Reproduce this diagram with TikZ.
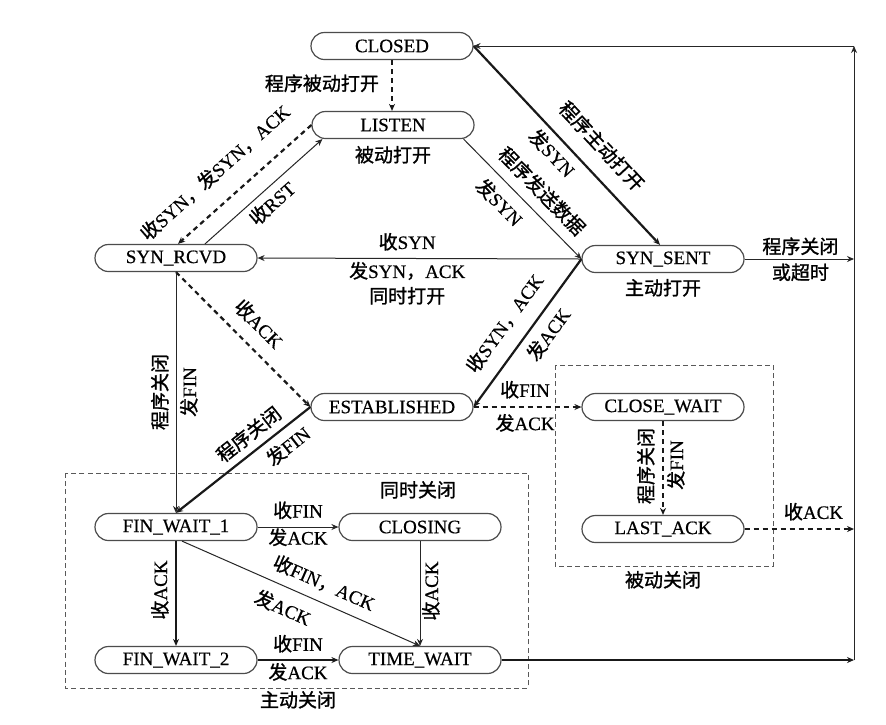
\documentclass[tikz,border=0pt]{standalone}
\usepackage{fontspec}
\setmainfont{Liberation Serif}[FakeBold=0.5]
\newfontfamily\cjk{Noto Sans CJK SC}[FakeBold=1.2]
\usetikzlibrary{arrows.meta,calc}
\newcommand\zh[1]{{\cjk #1}}
\begin{document}
\begin{tikzpicture}[x=0.5pt,y=-0.5pt,
  font=\fontsize{9.5}{11}\selectfont,
  st/.style={draw=black!70,line width=0.6pt,rounded corners=6.75pt,minimum width=81pt,minimum height=13.5pt,inner sep=0pt},
  lab/.style={inner sep=1pt,text height=7pt,text depth=2pt},
  tip/.style={-{Stealth[length=3.5pt,width=3pt]}},
  ln/.style={draw=black!85,line width=0.5pt,tip},
  tk/.style={draw=black!90,line width=1.1pt,tip},
  dd/.style={draw=black!90,line width=1.1pt,dash pattern=on 2.5pt off 2pt,tip},
  boxd/.style={draw=black!65,line width=0.5pt,dash pattern=on 2.5pt off 1.6pt}]
\fill[white] (0,0) rectangle (886,724);
\useasboundingbox (0,0) rectangle (886,724);
% dashed boxes
\draw[boxd] (65,473) rectangle (528,688);
\draw[boxd] (555,365) rectangle (773,566);
% states
\node[st] (closed) at (392,46) {CLOSED};
\node[st] (listen) at (393,125) {LISTEN};
\node[st] (synrcvd) at (176,258) {SYN\_RCVD};
\node[st] (synsent) at (663,259) {SYN\_SENT};
\node[st] (estab) at (392,407) {ESTABLISHED};
\node[st] (closewait) at (663,407) {CLOSE\_WAIT};
\node[st] (lastack) at (663,529) {LAST\_ACK};
\node[st] (fw1) at (176,527) {FIN\_WAIT\_1};
\node[st] (closing) at (420,527) {CLOSING};
\node[st] (fw2) at (176,660) {FIN\_WAIT\_2};
\node[st] (tw) at (420,660) {TIME\_WAIT};
% free labels
\node[lab] (tsgb) at (418,492) {\zh{同时关闭}};
\node[lab] (zdgb) at (298,702) {\zh{主动关闭}};
\node[lab] (bdgb) at (663,582) {\zh{被动关闭}};
\node[lab] (bddk) at (393,157) {\zh{被动打开}};
\node[lab] (zddk) at (663,290) {\zh{主动打开}};
% right bus coordinates
\coordinate (r1) at (854,259);
\coordinate (r2) at (854,529);
\coordinate (r3) at (854,660);
\coordinate (rt) at (854,46);
% edges
\draw[dd] (closed.south) -- (closed.south |- listen.north)
  node[lab,midway,left=5pt] (l1) {\zh{程序被动打开}};
\draw[dd] (listen.west) -- ($(synrcvd.north)+(2,0)$)
  node[lab,pos=0.58,sloped,above=7.3pt] (l2) {\zh{收}SYN\zh{，发}SYN\zh{，}ACK};
\draw[ln] ($(synrcvd.north)+(29,0)$) -- ($(listen.south west)+(11,0)$)
  node[lab,pos=0.49,sloped,below=2.5pt] (l3) {\zh{收}RST};
\draw[ln] ($(listen.south east)+(-11,0)$) -- (synsent.west)
  node[lab,pos=0.547,sloped,above=2.9pt] (l4a) {\zh{程序发送数据}}
  node[lab,pos=0.417,sloped,below=4.7pt] (l4b) {\zh{发}SYN};
\draw[tk] (closed.east) -- ($(synsent.north)+(-3,0)$)
  node[lab,pos=0.589,sloped,above=5.4pt] (l5a) {\zh{程序主动打开}}
  node[lab,pos=0.483,sloped,below=3pt] (l5b) {\zh{发}SYN};
\draw[ln] (synsent.west) -- (synrcvd.east)
  node[lab,pos=0.538,above=1.5pt] (l6a) {\zh{收}SYN}
  node[lab,pos=0.538,below=1.5pt] (l6b) {\zh{发}SYN\zh{，}ACK}
  node[lab,pos=0.538,below=14pt] (l6c) {\zh{同时打开}};
\draw[dd] (synrcvd.south) -- (estab.west)
  node[lab,pos=0.5,sloped,above=4pt] (l7) {\zh{收}ACK};
\draw[ln] (synrcvd.south) -- (fw1.north);
\node[lab,rotate=90] (l8a) at (162,392) {\zh{程序关闭}};
\node[lab,rotate=90] (l8b) at (191,392) {\zh{发}FIN};
\draw[tk] (synsent.west) -- (estab.east)
  node[lab,pos=0.531,sloped,above=5.1pt] (l9a) {\zh{收}SYN\zh{，}ACK}
  node[lab,pos=0.439,sloped,below=3.75pt] (l9b) {\zh{发}ACK};
\draw[tk] (estab.west) -- (fw1.north)
  node[lab,pos=0.382,sloped,above=1.3pt] (l10a) {\zh{程序关闭}}
  node[lab,pos=0.244,sloped,below=3.4pt] (l10b) {\zh{发}FIN};
\draw[dd] (estab.east) -- (closewait.west)
  node[lab,pos=0.477,above=1.5pt] (l11a) {\zh{收}FIN}
  node[lab,pos=0.477,below=3pt] (l11b) {\zh{发}ACK};
\draw[dd] (closewait.south) -- (lastack.north);
\node[lab,rotate=90] (l12a) at (648,466) {\zh{程序关闭}};
\node[lab,rotate=90] (l12b) at (678,465) {\zh{发}FIN};
\draw[dd] (lastack.east) -- (r2)
  node[lab,pos=0.63,above=1.5pt] (l13) {\zh{收}ACK};
\draw[ln] (fw1.east) -- (closing.west)
  node[lab,midway,above=1.5pt] (l14a) {\zh{收}FIN}
  node[lab,midway,below=0.5pt] (l14b) {\zh{发}ACK};
\draw[ln] (closing.south) -- (tw.north);
\node[lab,rotate=90] (l15) at (433,591) {\zh{收}ACK};
\draw[ln] ($(fw1.south)+(6,0)$) -- (tw.north)
  node[lab,pos=0.565,sloped,above=2.8pt] (l16a) {\zh{收}FIN\zh{，}ACK}
  node[lab,pos=0.458,sloped,below=5.4pt] (l16b) {\zh{发}ACK};
\draw[tk] (fw1.south) -- (fw2.north);
\node[lab,rotate=90] (l17) at (162,590) {\zh{收}ACK};
\draw[tk] (fw2.east) -- (tw.west)
  node[lab,midway,above=1pt] (l18a) {\zh{收}FIN}
  node[lab,midway,below=1pt] (l18b) {\zh{发}ACK};
\draw[tk] (tw.east) -- (r3);
\draw[ln] (r3) -- (rt);
\draw[ln] (rt) -- (closed.east);
\draw[ln] (synsent.east) -- (r1)
  node[lab,pos=0.51,above=-0.5pt] (l20a) {\zh{程序关闭}}
  node[lab,pos=0.51,below=2pt] (l20b) {\zh{或超时}};
\end{tikzpicture}
\end{document}
